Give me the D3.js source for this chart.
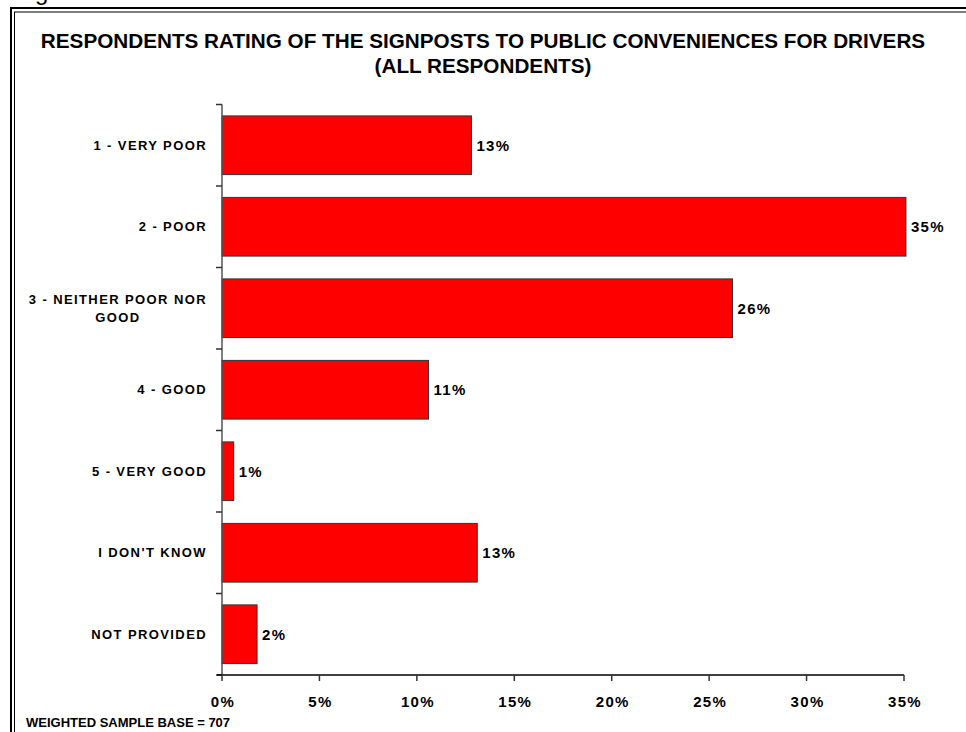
<!DOCTYPE html>
<html>
<head>
<meta charset="utf-8">
<script src="https://cdn.jsdelivr.net/npm/d3@7"></script>
<style>
  html, body { margin: 0; padding: 0; background: #fff; }
  svg { display: block; font-family: Arial, "Liberation Sans", sans-serif; }
</style>
</head>
<body>
<svg id="chart" width="966" height="732"></svg>
<script>
// Survey categories (each entry is one label line)
const categories = [
  ["1 - VERY POOR"],
  ["2 - POOR"],
  ["3 - NEITHER POOR NOR", "GOOD"],
  ["4 - GOOD"],
  ["5 - VERY GOOD"],
  ["I DON'T KNOW"],
  ["NOT PROVIDED"]
];
// Share of respondents, percent
const values = [12.8, 35.1, 26.2, 10.6, 0.6, 13.1, 1.8];
// Horizontal axis ticks, percent
const xTicks = [0, 5, 10, 15, 20, 25, 30, 35];

const titleLines = [
  "RESPONDENTS RATING OF THE SIGNPOSTS TO PUBLIC CONVENIENCES FOR DRIVERS",
  "(ALL RESPONDENTS)"
];
const footnote = "WEIGHTED SAMPLE BASE = 707";

const svg = d3.select("#chart");
const keys = categories.map((c, i) => i);

const x = d3.scaleLinear().domain([0, 35]).range([222, 904]);
const y = d3.scaleBand().domain(keys).range([104.5, 675])
  .paddingInner(0.28).paddingOuter(0.14);

// caption partly above the page
svg.append("text").attr("x", 15).attr("y", 0)
  .attr("font-size", 24).attr("fill", "#000").text("Figure 6");

// double frame
svg.append("rect").attr("x", 11).attr("y", 8).attr("width", 1000).attr("height", 800)
  .attr("fill", "none").attr("stroke", "#000").attr("stroke-width", 2);
svg.append("rect").attr("x", 14.5).attr("y", 12).attr("width", 1000).attr("height", 800)
  .attr("fill", "none").attr("stroke", "#000").attr("stroke-width", 1);

// title
svg.selectAll("text.title").data(titleLines).join("text")
  .attr("class", "title")
  .attr("x", 483).attr("y", (d, i) => 48 + i * 25)
  .attr("text-anchor", "middle")
  .attr("font-size", 20.7).attr("font-weight", "bold")
  .text(d => d);

// bars
svg.selectAll("rect.bar").data(values).join("rect")
  .attr("class", "bar")
  .attr("x", x(0))
  .attr("y", (d, i) => y(i))
  .attr("width", d => x(d) - x(0))
  .attr("height", y.bandwidth())
  .attr("fill", "#ff0000")
  .attr("stroke", "#333").attr("stroke-width", 1);

// value labels
svg.selectAll("text.val").data(values).join("text")
  .attr("class", "val")
  .attr("x", d => x(d) + 5)
  .attr("y", (d, i) => y(i) + y.bandwidth() / 2 + 5.5)
  .attr("font-size", 15).attr("font-weight", "bold")
  .attr("letter-spacing", 1.3)
  .text(d => d3.format(".0f")(d) + "%");

// vertical axis with ticks at band boundaries
const gy = svg.append("g");
gy.append("line").attr("x1", x(0)).attr("x2", x(0))
  .attr("y1", y.range()[0]).attr("y2", y.range()[1])
  .attr("stroke", "#555").attr("stroke-width", 1.5);
const bounds = keys.map(k => y(k) - y.step() * y.paddingOuter()).concat([y.range()[1]]);
gy.selectAll("line.tick").data(bounds).join("line")
  .attr("class", "tick")
  .attr("x1", x(0) - 6).attr("x2", x(0))
  .attr("y1", d => d).attr("y2", d => d)
  .attr("stroke", "#333").attr("stroke-width", 1.5);

// category labels
const labelRight = 207;
const lineGap = 18;
categories.forEach((lines, i) => {
  const cy = y(i) + y.bandwidth() / 2;
  const top = cy + 4.5 - (lines.length - 1) * lineGap / 2;
  const first = svg.append("text")
    .attr("x", labelRight).attr("y", top)
    .attr("text-anchor", "end")
    .attr("font-size", 13).attr("font-weight", "bold")
    .attr("letter-spacing", 1.4)
    .text(lines[0]);
  const w = first.node().getComputedTextLength();
  lines.slice(1).forEach((ln, j) => {
    svg.append("text")
      .attr("x", labelRight - w / 2).attr("y", top + (j + 1) * lineGap)
      .attr("text-anchor", "middle")
      .attr("font-size", 13).attr("font-weight", "bold")
      .attr("letter-spacing", 1.4)
      .text(ln);
  });
});

// horizontal axis
const gx = svg.append("g").attr("transform", "translate(0,675)");
gx.append("line").attr("x1", 217).attr("x2", x(35)).attr("y1", 0).attr("y2", 0)
  .attr("stroke", "#000").attr("stroke-width", 1.5);
gx.selectAll("line.tick").data(xTicks).join("line")
  .attr("class", "tick")
  .attr("x1", d => x(d)).attr("x2", d => x(d))
  .attr("y1", 0).attr("y2", 6)
  .attr("stroke", "#333").attr("stroke-width", 1.5);
gx.selectAll("text").data(xTicks).join("text")
  .attr("x", d => x(d) + 1).attr("y", 31.5)
  .attr("text-anchor", "middle")
  .attr("font-size", 15).attr("font-weight", "bold")
  .attr("letter-spacing", 1.3)
  .text(d => d + "%");

// footnote
svg.append("text").attr("x", 26).attr("y", 727)
  .attr("font-size", 13).attr("font-weight", "bold")
  .text(footnote);
</script>
</body>
</html>
